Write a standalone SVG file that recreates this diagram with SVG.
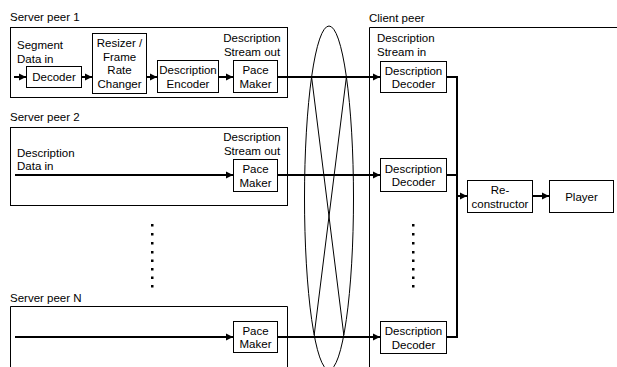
<svg xmlns="http://www.w3.org/2000/svg" width="617" height="367" viewBox="0 0 617 367">
  <defs>
    <marker id="arr" markerWidth="8" markerHeight="8" refX="7" refY="4" orient="auto" markerUnits="userSpaceOnUse">
      <path d="M0,0.5 L7,4 L0,7.5 Z" fill="#000"/>
    </marker>
    <style>
      text { font-family: "Liberation Sans", Arial, sans-serif; font-size: 11.5px; fill: #000; }
      .c { text-anchor: middle; }
      .frame { fill: none; stroke: #000; stroke-width: 1; }
      .box { fill: #fff; stroke: #000; stroke-width: 1; }
      .flow { fill: none; stroke: #000; stroke-width: 2; }
      .thin { fill: none; stroke: #000; stroke-width: 1; }
      .dot { fill: #000; }
    </style>
  </defs>

  <rect width="617" height="367" fill="#fff"/>

  <!-- server peer 1 -->
  <g id="server1">
    <text x="10" y="21">Server peer 1</text>
    <rect class="frame" x="10.5" y="27.5" width="277" height="70"/>
    <text x="17" y="49">Segment</text>
    <text x="17" y="63">Data in</text>
    <text x="252" y="42" class="c">Description</text>
    <text x="252" y="56" class="c">Stream out</text>
  </g>
  <g id="decoder1">
    <rect class="box" x="26.5" y="66.5" width="55" height="21"/>
    <text x="54" y="81" class="c">Decoder</text>
  </g>
  <g id="resizer1">
    <rect class="box" x="92.5" y="33.5" width="54" height="60"/>
    <text x="119.5" y="47" class="c">Resizer /</text>
    <text x="119.5" y="60.5" class="c">Frame</text>
    <text x="119.5" y="74" class="c">Rate</text>
    <text x="119.5" y="87.5" class="c">Changer</text>
  </g>
  <g id="encoder1">
    <rect class="box" x="157.5" y="60.5" width="61" height="32"/>
    <text x="188" y="74" class="c">Description</text>
    <text x="188" y="87.5" class="c">Encoder</text>
  </g>
  <g id="pacemaker1">
    <rect class="box" x="233.5" y="60.5" width="44" height="32"/>
    <text x="255.5" y="74" class="c">Pace</text>
    <text x="255.5" y="87.5" class="c">Maker</text>
  </g>

  <!-- server peer 2 -->
  <g id="server2">
    <text x="10" y="121">Server peer 2</text>
    <rect class="frame" x="10.5" y="127.5" width="277" height="78"/>
    <text x="17" y="157">Description</text>
    <text x="17" y="170">Data in</text>
    <text x="252" y="141" class="c">Description</text>
    <text x="252" y="154.5" class="c">Stream out</text>
  </g>
  <g id="pacemaker2">
    <rect class="box" x="233.5" y="159.5" width="44" height="32"/>
    <text x="255.5" y="173" class="c">Pace</text>
    <text x="255.5" y="186.5" class="c">Maker</text>
  </g>

  <!-- server peer N -->
  <g id="serverN">
    <text x="10" y="302">Server peer N</text>
    <path class="frame" d="M10.5,370 V306.5 H287.5 V370"/>
  </g>
  <g id="pacemakerN">
    <rect class="box" x="233.5" y="321.5" width="44" height="31"/>
    <text x="255.5" y="334.5" class="c">Pace</text>
    <text x="255.5" y="348" class="c">Maker</text>
  </g>

  <!-- client peer -->
  <g id="client">
    <text x="369" y="22">Client peer</text>
    <path class="frame" d="M369.5,370 V27.5 H620"/>
    <text x="377" y="42">Description</text>
    <text x="377" y="56">Stream in</text>
  </g>
  <g id="ddecoder1">
    <rect class="box" x="380.5" y="61.5" width="66" height="31"/>
    <text x="413.5" y="74.5" class="c">Description</text>
    <text x="413.5" y="88" class="c">Decoder</text>
  </g>
  <g id="ddecoder2">
    <rect class="box" x="380.5" y="158.5" width="66" height="33"/>
    <text x="413.5" y="172.5" class="c">Description</text>
    <text x="413.5" y="186" class="c">Decoder</text>
  </g>
  <g id="ddecoderN">
    <rect class="box" x="380.5" y="321.5" width="66" height="32"/>
    <text x="413.5" y="335" class="c">Description</text>
    <text x="413.5" y="348.5" class="c">Decoder</text>
  </g>
  <g id="reconstructor">
    <rect class="box" x="467.5" y="180.5" width="65" height="32"/>
    <text x="500" y="194" class="c">Re-</text>
    <text x="500" y="207.5" class="c">constructor</text>
  </g>
  <g id="player">
    <rect class="box" x="549.5" y="180.5" width="64" height="32"/>
    <text x="581.5" y="200.5" class="c">Player</text>
  </g>

  <!-- overlay network cloud -->
  <g id="network">
    <ellipse class="thin" cx="329" cy="198" rx="24.5" ry="172"/>
    <line class="thin" x1="311.6" y1="77" x2="343.8" y2="335"/>
    <line class="thin" x1="346.4" y1="77" x2="314.2" y2="335"/>
  </g>

  <!-- ellipsis dots -->
  <g id="dots">
    <g class="dot">
      <rect x="151" y="224" width="2.5" height="2.5"/>
      <rect x="151" y="233" width="2.5" height="2.5"/>
      <rect x="151" y="242" width="2.5" height="2.5"/>
      <rect x="151" y="251" width="2.5" height="2.5"/>
      <rect x="151" y="259.5" width="2.5" height="2.5"/>
      <rect x="151" y="268" width="2.5" height="2.5"/>
      <rect x="151" y="276.5" width="2.5" height="2.5"/>
      <rect x="151" y="285" width="2.5" height="2.5"/>
      <rect x="412" y="224" width="2.5" height="2.5"/>
      <rect x="412" y="233" width="2.5" height="2.5"/>
      <rect x="412" y="242" width="2.5" height="2.5"/>
      <rect x="412" y="251" width="2.5" height="2.5"/>
      <rect x="412" y="259.5" width="2.5" height="2.5"/>
      <rect x="412" y="268" width="2.5" height="2.5"/>
      <rect x="412" y="276.5" width="2.5" height="2.5"/>
      <rect x="412" y="285" width="2.5" height="2.5"/>
    </g>
  </g>

  <!-- connectors -->
  <g id="connectors">
    <line class="flow" x1="14" y1="77" x2="26" y2="77" marker-end="url(#arr)"/>
    <line class="flow" x1="81" y1="77" x2="92" y2="77" marker-end="url(#arr)"/>
    <line class="flow" x1="146" y1="77" x2="157" y2="77" marker-end="url(#arr)"/>
    <line class="flow" x1="218" y1="77" x2="233" y2="77" marker-end="url(#arr)"/>
    <line class="flow" x1="277" y1="77" x2="380" y2="77" marker-end="url(#arr)"/>
    <line class="flow" x1="15" y1="175" x2="233" y2="175" marker-end="url(#arr)"/>
    <line class="flow" x1="277" y1="175" x2="380" y2="175" marker-end="url(#arr)"/>
    <line class="flow" x1="15" y1="337" x2="233" y2="337" marker-end="url(#arr)"/>
    <line class="flow" x1="277" y1="337" x2="380" y2="337" marker-end="url(#arr)"/>
    <path class="flow" d="M446,77 H457 V337 H446"/>
    <line class="flow" x1="446" y1="175" x2="457" y2="175"/>
    <line class="flow" x1="457" y1="196" x2="467" y2="196" marker-end="url(#arr)"/>
    <line class="flow" x1="532" y1="196" x2="549" y2="196" marker-end="url(#arr)"/>
  </g>
</svg>
